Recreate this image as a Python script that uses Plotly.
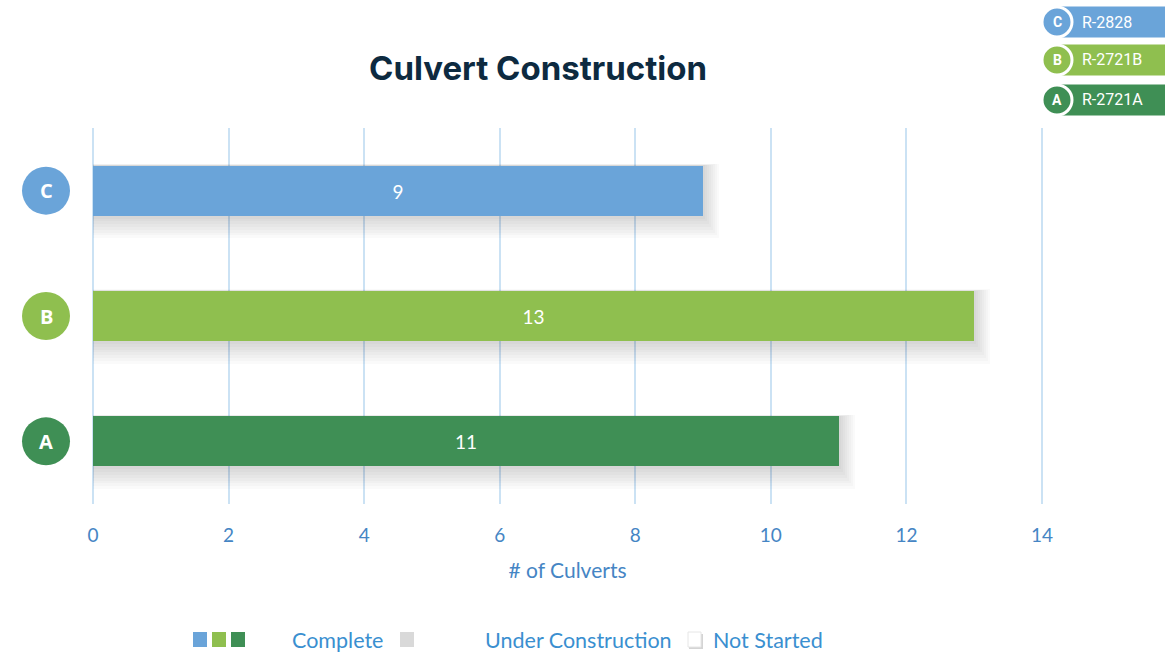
import plotly.graph_objects as go

# data
projects = ["A", "B", "C"]
project_ids = ["R-2721A", "R-2721B", "R-2828"]
complete = [11, 13, 9]
colors = ["#3f8f55", "#8fbf4f", "#6aa4d9"]
x_ticks = [0, 2, 4, 6, 8, 10, 12, 14]

W, H = 1170, 653
L, R, T, B = 91, 126, 128, 149
PW, PH = W - L - R, H - T - B


def px(x):
    return (x - L) / PW


def py(y):
    return (H - B - y) / PH


fig = go.Figure()

# soft drop shadows under the bars
n = 8
for k in range(n, 0, -1):
    f = k / n
    bottom = -0.2 - 0.18 * f
    top = 0.2 + 0.012 * f
    fig.add_trace(go.Bar(
        y=projects, x=[v + 0.24 * f for v in complete], orientation="h",
        width=top - bottom, offset=bottom,
        marker=dict(color="rgba(0,0,0,0.018)", line=dict(width=0)),
        hoverinfo="skip", showlegend=False,
    ))

fig.add_trace(go.Bar(
    y=projects, x=complete, orientation="h", width=0.4, offset=-0.2,
    marker=dict(color=colors, line=dict(width=0)),
    text=complete, textposition="inside", insidetextanchor="middle",
    textfont=dict(family="Lato", size=19, color="white"),
    showlegend=False,
))

shapes = []
annotations = []


def note(x, y, text, font, xanchor="center", xref="paper", yref="paper"):
    annotations.append(dict(
        x=x, y=y, xref=xref, yref=yref, text=text, showarrow=False,
        xanchor=xanchor, yanchor="middle", font=font,
    ))


# letter badges left of the bars
for i, p in enumerate(projects):
    shapes.append(dict(
        type="circle", xref="paper", yref="y", xsizemode="pixel", ysizemode="pixel",
        xanchor=px(46), yanchor=i, x0=-24, x1=24, y0=-24, y1=24,
        fillcolor=colors[i], line=dict(width=0), layer="above",
    ))
    note(px(46), p, "<b>%s</b>" % p,
         dict(family="Open Sans", size=20, color="white"), yref="y")

# top-right key
key_rows = [(22, 2), (60, 1), (100, 0)]
for yc, i in key_rows:
    shapes.append(dict(
        type="rect", xref="paper", yref="paper",
        x0=px(1056), x1=px(1165), y0=py(yc + 15.5), y1=py(yc - 15.5),
        fillcolor=colors[i], line=dict(width=0),
    ))
    shapes.append(dict(
        type="circle", xref="paper", yref="paper",
        x0=px(1042), x1=px(1072), y0=py(yc + 15), y1=py(yc - 15),
        fillcolor=colors[i], line=dict(color="white", width=3),
    ))
    note(px(1057), py(yc), "<b>%s</b>" % projects[i],
         dict(family="Roboto", size=14, color="white"))
    note(px(1080), py(yc), project_ids[i],
         dict(family="Roboto", size=16, color="white"), xanchor="left")

# bottom status legend
legend_blue = "#3a8fd0"
for j, c in enumerate(colors[::-1]):
    x0 = 193 + j * 19
    shapes.append(dict(
        type="rect", xref="paper", yref="paper",
        x0=px(x0), x1=px(x0 + 14), y0=py(647), y1=py(632),
        fillcolor=c, line=dict(width=0),
    ))
shapes.append(dict(
    type="rect", xref="paper", yref="paper",
    x0=px(400), x1=px(414), y0=py(647), y1=py(632),
    fillcolor="#d9d9d9", line=dict(width=0),
))
shapes.append(dict(
    type="rect", xref="paper", yref="paper",
    x0=px(689), x1=px(703), y0=py(649), y1=py(634),
    fillcolor="#d4d4d4", line=dict(width=0),
))
shapes.append(dict(
    type="rect", xref="paper", yref="paper",
    x0=px(688), x1=px(701), y0=py(647), y1=py(632),
    fillcolor="white", line=dict(color="#e6e6e6", width=1),
))
for label, x in [("Complete", 290), ("Under Construction", 483), ("Not Started", 711)]:
    note(px(x), py(640), label,
         dict(family="Lato", size=21.5, color=legend_blue), xanchor="left")

fig.update_layout(
    width=W, height=H,
    margin=dict(l=L, r=R, t=T, b=B),
    plot_bgcolor="white", paper_bgcolor="white",
    barmode="overlay", bargap=0,
    title=dict(
        text="<b>Culvert Construction</b>", x=538 / W, xanchor="center",
        y=1 - 68 / H, yanchor="middle",
        font=dict(family="Inter", size=33, color="#0d2a40"),
    ),
    xaxis=dict(
        range=[-0.03, 14.03], tickvals=x_ticks, showgrid=True, gridcolor="#cbe2f4",
        gridwidth=2, zeroline=False, showline=False, ticks="",
        ticklabelstandoff=18,
        tickfont=dict(family="Lato", size=19, color="#4585c4"),
        title=dict(text="# of Culverts", standoff=18,
                   font=dict(family="Lato", size=21, color="#4585c4")),
    ),
    yaxis=dict(
        categoryorder="array", categoryarray=projects, range=[-0.5, 2.5],
        showticklabels=False, showgrid=False, zeroline=False, showline=False,
    ),
    shapes=shapes, annotations=annotations,
    showlegend=False,
)

fig.write_html("out.html", config={"displayModeBar": False},
               post_script="document.body.style.margin='0';")
